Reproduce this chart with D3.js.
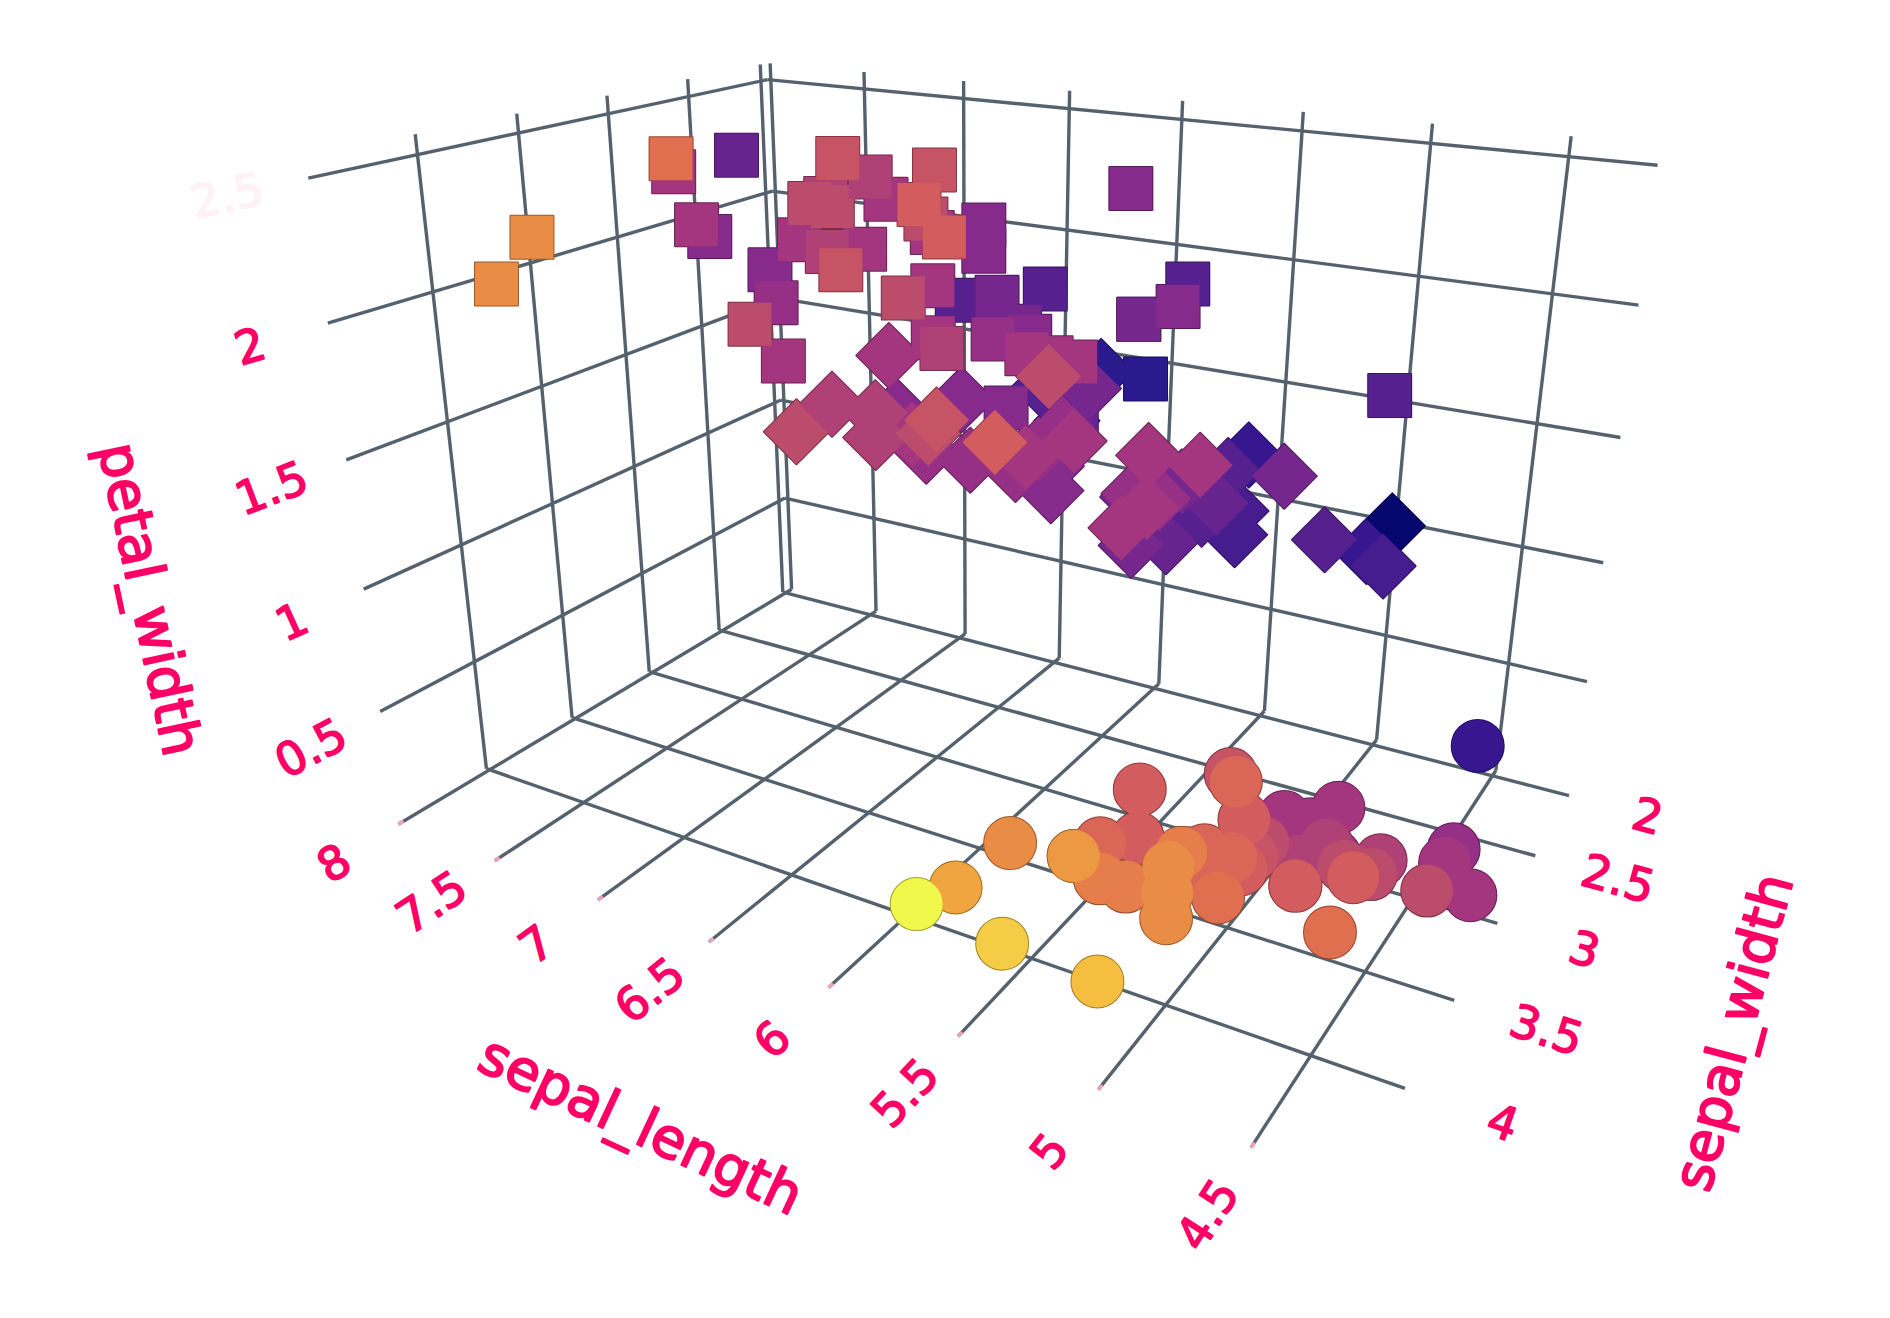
<!DOCTYPE html>
<html><head><meta charset="utf-8"><script src="https://cdn.jsdelivr.net/npm/d3@7"></script>
<style>html,body{margin:0;background:#fff}svg{display:block}text{font-family:'DejaVu Sans',sans-serif;fill:#ff0066;stroke:#ff0066;stroke-linejoin:round;text-anchor:middle;dominant-baseline:central}</style></head>
<body><svg id="c" width="1890" height="1318"></svg>
<script>
// [sepal_length, sepal_width, petal_width]
const setosa=[[5.1,3.5,.2],[4.9,3,.2],[4.7,3.2,.2],[4.6,3.1,.2],[5,3.6,.2],[5.4,3.9,.4],[4.6,3.4,.3],[5,3.4,.2],[4.4,2.9,.2],[4.9,3.1,.1],[5.4,3.7,.2],[4.8,3.4,.2],[4.8,3,.1],[4.3,3,.1],[5.8,4,.2],[5.7,4.4,.4],[5.4,3.9,.4],[5.1,3.5,.3],[5.7,3.8,.3],[5.1,3.8,.3],[5.4,3.4,.2],[5.1,3.7,.4],[4.6,3.6,.2],[5.1,3.3,.5],[4.8,3.4,.2],[5,3,.2],[5,3.4,.4],[5.2,3.5,.2],[5.2,3.4,.2],[4.7,3.2,.2],[4.8,3.1,.2],[5.4,3.4,.4],[5.2,4.1,.1],[5.5,4.2,.2],[4.9,3.1,.1],[5,3.2,.2],[5.5,3.5,.2],[4.9,3.1,.1],[4.4,3,.2],[5.1,3.4,.2],[5,3.5,.3],[4.5,2.3,.3],[4.4,3.2,.2],[5,3.5,.6],[5.1,3.8,.4],[4.8,3,.3],[5.1,3.8,.2],[4.6,3.2,.2],[5.3,3.7,.2],[5,3.3,.2]];
const versicolor=[[7,3.2,1.4],[6.4,3.2,1.5],[6.9,3.1,1.5],[5.5,2.3,1.3],[6.5,2.8,1.5],[5.7,2.8,1.3],[6.3,3.3,1.6],[4.9,2.4,1],[6.6,2.9,1.3],[5.2,2.7,1.4],[5,2,1],[5.9,3,1.5],[6,2.2,1],[6.1,2.9,1.4],[5.6,2.9,1.3],[6.7,3.1,1.4],[5.6,3,1.5],[5.8,2.7,1],[6.2,2.2,1.5],[5.6,2.5,1.1],[5.9,3.2,1.8],[6.1,2.8,1.3],[6.3,2.5,1.5],[6.1,2.8,1.2],[6.4,2.9,1.3],[6.6,3,1.4],[6.8,2.8,1.4],[6.7,3,1.7],[6,2.9,1.5],[5.7,2.6,1],[5.5,2.4,1.1],[5.5,2.4,1],[5.8,2.7,1.2],[6,2.7,1.6],[5.4,3,1.5],[6,3.4,1.6],[6.7,3.1,1.5],[6.3,2.3,1.3],[5.6,3,1.3],[5.5,2.5,1.3],[5.5,2.6,1.2],[6.1,3,1.4],[5.8,2.6,1.2],[5,2.3,1],[5.6,2.7,1.3],[5.7,3,1.2],[5.7,2.9,1.3],[6.2,2.9,1.3],[5.1,2.5,1.1],[5.7,2.8,1.3]];
const virginica=[[6.3,3.3,2.5],[5.8,2.7,1.9],[7.1,3,2.1],[6.3,2.9,1.8],[6.5,3,2.2],[7.6,3,2.1],[4.9,2.5,1.7],[7.3,2.9,1.8],[6.7,2.5,1.8],[7.2,3.6,2.5],[6.5,3.2,2],[6.4,2.7,1.9],[6.8,3,2.1],[5.7,2.5,2],[5.8,2.8,2.4],[6.4,3.2,2.3],[6.5,3,1.8],[7.7,3.8,2.2],[7.7,2.6,2.3],[6,2.2,1.5],[6.9,3.2,2.3],[5.6,2.8,2],[7.7,2.8,2],[6.3,2.7,1.8],[6.7,3.3,2.1],[7.2,3.2,1.8],[6.2,2.8,1.8],[6.1,3,1.8],[6.4,2.8,2.1],[7.2,3,1.6],[7.4,2.8,1.9],[7.9,3.8,2],[6.4,2.8,2.2],[6.3,2.8,1.5],[6.1,2.6,1.4],[7.7,3,2.3],[6.3,3.4,2.4],[6.4,3.1,1.8],[6,3,1.8],[6.9,3.1,2.1],[6.7,3.1,2.4],[6.9,3.1,2.3],[5.8,2.7,1.9],[6.8,3.2,2.3],[6.7,3.3,2.5],[6.7,3,2.3],[6.3,2.5,1.9],[6.5,3,2],[6.2,3.4,2.3],[5.9,3,1.8]];
const xTicks=[8,7.5,7,6.5,6,5.5,5,4.5],yTicks=[2,2.5,3,3.5,4],zTicks=[.5,1,1.5,2,2.5];
const xRange=[4.1962883,8.0174743],yRange=[1.9511208,4.4782995],zRange=[.0188225,2.5718763];
const colorDomain=[2,2.2,2.3,2.5,2.8,3,3.2,3.4,3.6,3.8,4,4.1,4.2,4.4];
const colorRange=['#06066f','#2a1a8e','#37178f','#57208f','#862a8c','#a3367f','#bc4c6c','#d25c5e','#e06f4f','#e98c45','#f0a540','#f5be3e','#f5cc45','#f0f94b'];
// camera (fitted projective matrix, normalised axes to normalised screen)
const cam=[-.4855859,-.2251027,-.0022972,.1099431,-.1293793,.1650652,-.3199602,-.1684275,.1389334,-.1787616,-.0674962];
const sx=d3.scaleLinear().domain([4,8]).range([-1,1]),sy=d3.scaleLinear().domain([1.5,4.5]).range([-1,1]),sz=d3.scaleLinear().domain([0,2.5]).range([-1,1]);
const su=d3.scaleLinear().domain([-1,1]).range([0,1890]),sv=d3.scaleLinear().domain([-1,1]).range([-286,1604]);
const color=d3.scaleLinear().domain(colorDomain).range(colorRange);
const depth=(x,y,z)=>cam[8]*sx(x)+cam[9]*sy(y)+cam[10]*sz(z)+1;
const pr=(x,y,z)=>{const X=sx(x),Y=sy(y),Z=sz(z),d=depth(x,y,z);return [su((cam[0]*X+cam[1]*Y+cam[2]*Z+cam[3])/d),sv((cam[4]*X+cam[5]*Y+cam[6]*Z+cam[7])/d)];};
const svg=d3.select('#c');
const [xa,xb]=xRange,[ya,yb]=yRange,[za,zb]=zRange;
const segs=[];
xTicks.forEach(x=>{segs.push([[x,ya,za],[x,yb,za]],[[x,ya,za],[x,ya,zb]]);});
yTicks.forEach(y=>{segs.push([[xa,y,za],[xb,y,za]],[[xb,y,za],[xb,y,zb]]);});
zTicks.forEach(z=>{segs.push([[xb,ya,z],[xb,yb,z]],[[xa,ya,z],[xb,ya,z]]);});
const drawSegs=(data)=>svg.append('g').selectAll('line').data(data).join('line')
 .attr('x1',d=>pr(...d[0])[0]).attr('y1',d=>pr(...d[0])[1]).attr('x2',d=>pr(...d[1])[0]).attr('y2',d=>pr(...d[1])[1]);
drawSegs(segs).attr('stroke','#55626e').attr('stroke-width',3.4);
// the pale pink tint at the open ends of the floor grid lines
drawSegs(xTicks.map(x=>[[x,yb-.025,za],[x,yb,za]])).attr('stroke','#f4a0bc').attr('stroke-width',3.4);
const marks=[...setosa.map(d=>({d,s:'circle'})),...versicolor.map(d=>({d,s:'diamond'})),...virginica.map(d=>({d,s:'square'}))]
 .sort((a,b)=>depth(...b.d)-depth(...a.d));
const pathOf={circle:d3.symbol(d3.symbolCircle,Math.PI*26*26)(),diamond:d3.symbol(d3.symbolSquare,46*46)(),square:d3.symbol(d3.symbolSquare,43*43)()};
const tf=m=>{const p=pr(...m.d);return `translate(${p[0]},${p[1]})`+(m.s==='diamond'?' rotate(45)':'');};
svg.append('g').selectAll('path').data(marks).join('path').attr('d',m=>pathOf[m.s]).attr('transform',tf)
 .attr('fill','none').attr('stroke',m=>d3.color(color(m.d[1])).darker(1.2)).attr('stroke-width',2).attr('stroke-linejoin','round');
svg.append('g').selectAll('path').data(marks).join('path').attr('d',m=>pathOf[m.s]).attr('transform',tf).attr('fill',m=>color(m.d[1]));
// tick labels lie along the projected grid line they belong to
const angle=(a,b)=>{const p=pr(...a),q=pr(...b);return Math.atan2(q[1]-p[1],q[0]-p[0])*180/Math.PI;};
const tickLabels=(data,pos,rot,op)=>svg.append('g').selectAll('text').data(data).join('text').text(d=>d)
 .attr('font-size',46).attr('stroke-width',1.6).attr('opacity',op||null)
 .attr('transform',d=>{const p=pos(d);return `translate(${p[0]},${p[1]}) rotate(${rot(d)})`;});
tickLabels(xTicks,x=>pr(x,yb+.31,za),x=>angle([x,yb,za],[x,ya,za]));
tickLabels(yTicks,y=>pr(xa-.3,y,za),y=>angle([xb,y,za],[xa,y,za]));
const zPos=z=>pr(xb,yb+.32,z),zRot=z=>angle([xb,yb,z],[xb,ya,z]);
tickLabels(zTicks.filter(z=>z<2.5),zPos,zRot);
tickLabels([2.5],zPos,zRot,.05);
const titles=[['petal_width',150,599,78],['sepal_length',641,1125,25],['sepal_width',1733,1032,-75]];
svg.append('g').selectAll('text').data(titles).join('text').text(d=>d[0]).attr('font-size',55).attr('stroke-width',2)
 .attr('transform',d=>`translate(${d[1]},${d[2]}) rotate(${d[3]})`);
</script></body></html>
